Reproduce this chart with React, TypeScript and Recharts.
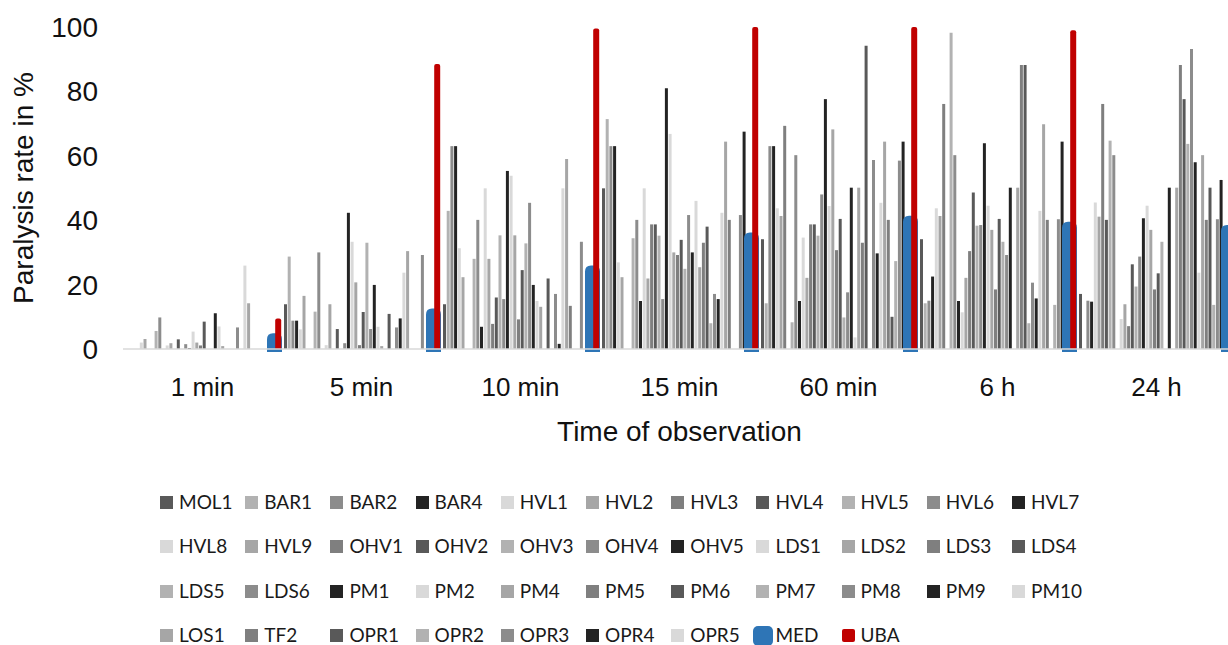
import React from 'react';
import { BarChart, Bar, XAxis, YAxis, Legend } from 'recharts';

const CATEGORIES = ['1 min', '5 min', '10 min', '15 min', '60 min', '6 h', '24 h'];

const SERIES = [
  'MOL1', 'BAR1', 'BAR2', 'BAR4', 'HVL1', 'HVL2', 'HVL3', 'HVL4', 'HVL5', 'HVL6', 'HVL7',
  'HVL8', 'HVL9', 'OHV1', 'OHV2', 'OHV3', 'OHV4', 'OHV5', 'LDS1', 'LDS2', 'LDS3', 'LDS4',
  'LDS5', 'LDS6', 'PM1', 'PM2', 'PM4', 'PM5', 'PM6', 'PM7', 'PM8', 'PM9', 'PM10',
  'LOS1', 'TF2', 'OPR1', 'OPR2', 'OPR3', 'OPR4', 'OPR5', 'MED', 'UBA',
];

// values per time point, in SERIES order
const V_1MIN = [0, 0, 0, 0, 2, 3.1, 0, 0, 5.6, 9.8, 0, 1.1, 1.8, 0, 3, 0, 1.5, 0.3, 5.4, 2, 1.1, 8.5, 0, 0, 11.1, 7, 0.9, 0, 0, 0, 6.7, 0, 25.9, 14.2, 0, 0, 0, 0, 0, 0, 4.9, 9.5];
const V_5MIN = [13.9, 28.7, 8.8, 8.8, 6.1, 16.5, 0, 0, 11.6, 30.0, 0, 1.2, 13.9, 0, 6.2, 0, 1.8, 42.3, 33.3, 20.7, 1.2, 11.5, 33.0, 6.2, 19.9, 6.9, 0.9, 0, 10.9, 0, 6.7, 9.5, 23.7, 30.4, 0, 0, 0, 29.2, 0, 0, 12.6, 88.5];
const V_10MIN = [13.9, 42.9, 63.0, 63.0, 31.3, 22.3, 0, 0, 28.0, 40.1, 6.9, 49.9, 28.0, 7.8, 16.0, 35.3, 15.5, 55.3, 53.8, 35.3, 9.2, 24.5, 32.8, 45.4, 19.9, 14.9, 13.1, 0, 21.9, 0, 17.1, 1.6, 49.9, 59.0, 13.4, 0, 0, 33.3, 0, 0, 25.9, 99.5];
const V_15MIN = [49.9, 71.4, 63.0, 63.0, 26.9, 22.3, 0, 0, 34.4, 40.1, 14.9, 49.9, 21.9, 38.7, 38.7, 35.2, 15.5, 81.0, 66.8, 30.0, 29.2, 33.9, 24.9, 41.6, 30.0, 46.0, 25.4, 33.0, 38.0, 8.0, 17.1, 15.5, 42.3, 64.4, 40.1, 0, 0, 41.6, 67.5, 0, 36.2, 100];
const V_60MIN = [34.1, 14.2, 63.0, 63.0, 43.7, 41.3, 69.3, 0, 8.3, 60.2, 14.9, 34.6, 22.1, 38.7, 38.7, 35.2, 48.0, 77.6, 44.4, 68.2, 30.7, 40.4, 9.8, 17.6, 50.1, 3.6, 50.1, 33.0, 94.2, 0, 58.7, 29.7, 45.4, 64.4, 40.1, 10.0, 27.3, 58.5, 64.4, 0, 41.4, 100];
const V_6H = [34.1, 14.2, 15.0, 22.5, 43.7, 41.3, 76.1, 0, 98.2, 60.2, 14.9, 11.4, 22.1, 30.4, 48.6, 38.3, 38.5, 63.9, 44.5, 37.0, 18.5, 40.4, 33.3, 29.2, 50.1, 0, 50.1, 88.2, 88.2, 8.0, 20.6, 15.7, 42.9, 69.8, 40.1, 0, 13.7, 40.3, 64.4, 0, 39.5, 99];
const V_24H = [17.1, 0, 15.0, 14.7, 45.5, 41.1, 76.1, 40.1, 64.7, 60.2, 0, 9.3, 13.9, 7.1, 26.3, 19.4, 28.7, 40.6, 44.5, 37.0, 18.5, 23.5, 33.3, 0, 50.1, 0, 50.1, 88.2, 77.6, 63.7, 93.2, 58.0, 23.7, 60.2, 40.1, 50.1, 13.7, 40.3, 52.5, 0, 38.5, 100];

const VALUES = [V_1MIN, V_5MIN, V_10MIN, V_15MIN, V_60MIN, V_6H, V_24H];
const Y_TICKS = [0, 20, 40, 60, 80, 100];

const GRAYS = ['#595959', '#b2b2b2', '#8c8c8c', '#232323', '#d9d9d9', '#a6a6a6', '#7f7f7f'];
const MED_COLOR = '#2e75b6';
const UBA_COLOR = '#c00000';

const colorOf = (name: string, i: number) =>
  name === 'MED' ? MED_COLOR : name === 'UBA' ? UBA_COLOR : GRAYS[i % GRAYS.length];

const data = CATEGORIES.map((cat, ci) => {
  const row: Record<string, any> = { cat };
  SERIES.forEach((s, si) => {
    row[s] = VALUES[ci][si];
  });
  return row;
});

const AXIS_FONT = '"Liberation Sans", Arial, sans-serif';

const MedShape = (p: any) => {
  const { x, y, width, height } = p;
  if (!height || height <= 0) return null;
  const cx = x + width / 2;
  const w = 15;
  const r = 6;
  const l = cx - w / 2;
  const rt = cx + w / 2;
  const top = y;
  const bottom = y + height + 3;
  const d = `M${l},${bottom} L${l},${top + r} Q${l},${top} ${l + r},${top} L${rt - r},${top} Q${rt},${top} ${rt},${top + r} L${rt},${bottom} Z`;
  return <path d={d} fill={MED_COLOR} />;
};

const UbaShape = (p: any) => {
  const { x, y, width, height } = p;
  if (!height || height <= 0) return null;
  const cx = x + width / 2;
  const w = 6;
  const r = 2;
  const l = cx - w / 2;
  const rt = cx + w / 2;
  const top = y;
  const bottom = y + height;
  const d = `M${l},${bottom} L${l},${top + r} Q${l},${top} ${l + r},${top} L${rt - r},${top} Q${rt},${top} ${rt},${top + r} L${rt},${bottom} Z`;
  return <path d={d} fill={UBA_COLOR} />;
};

const YTitle = (props: any) => {
  const vb = props.viewBox || { x: 0, y: 27, width: 123, height: 322 };
  const cx = 33;
  const cy = vb.y + vb.height / 2;
  return (
    <text
      x={cx}
      y={cy}
      transform={`rotate(-90, ${cx}, ${cy})`}
      textAnchor="middle"
      fontFamily={AXIS_FONT}
      fontSize={28}
      fill="#111"
    >
      Paralysis rate in %
    </text>
  );
};

const XTitle = (props: any) => {
  const vb = props.viewBox || { x: 123, y: 349, width: 1113, height: 100 };
  return (
    <text
      x={vb.x + vb.width / 2}
      y={vb.y + 92}
      textAnchor="middle"
      fontFamily={AXIS_FONT}
      fontSize={28}
      fill="#111"
    >
      Time of observation
    </text>
  );
};

const LegendContent = () => (
  <div style={{ position: 'relative', width: 1240, height: 165, fontFamily: 'Lato, "Open Sans", sans-serif', fontSize: 19, color: '#1a1a1a' }}>
    {SERIES.map((s, i) => {
      const col = i % 11;
      const row = Math.floor(i / 11);
      const left = 160 + 85.2 * col;
      const cy = 22 + 44.6 * row;
      const c = colorOf(s, i);
      const isMed = s === 'MED';
      const size = isMed ? 20 : 13;
      return (
        <div key={s}>
          <div
            style={{
              position: 'absolute',
              left: left + 6.5 - size / 2,
              top: cy - size / 2,
              width: size,
              height: size,
              background: c,
              borderRadius: isMed ? 5 : s === 'UBA' ? 2 : 0,
            }}
          />
          <span style={{ position: 'absolute', left: left + 19, top: cy - 8.5, lineHeight: '16px', whiteSpace: 'nowrap' }}>{s}</span>
        </div>
      );
    })}
  </div>
);

export default function App() {
  return (
    <div style={{ position: 'absolute', left: 0, top: 0, width: 1228, height: 645, overflow: 'hidden', background: '#fff' }}>
      <BarChart
        width={1240}
        height={645}
        data={data}
        margin={{ top: 27, right: 4, left: 0, bottom: 196 }}
        barCategoryGap={2}
        barGap={0.7}
      >
        <XAxis
          dataKey="cat"
          interval={0}
          axisLine={{ stroke: '#d9d9d9', strokeWidth: 1.5 }}
          tickLine={false}
          tickMargin={22.5}
          height={100}
          tick={{ fontSize: 26, fill: '#111', fontFamily: AXIS_FONT }}
          label={{ content: XTitle } as any}
        />
        <YAxis
          type="number"
          domain={[0, 100]}
          ticks={Y_TICKS}
          interval={0}
          axisLine={false}
          tickLine={false}
          width={123}
          tickMargin={19}
          tick={{ fontSize: 28, fill: '#111', fontFamily: AXIS_FONT }}
          label={{ content: YTitle } as any}
        />
        {SERIES.map((s, i) => (
          <Bar
            key={s}
            dataKey={s}
            name={s}
            fill={colorOf(s, i)}
            isAnimationActive={false}
            shape={s === 'MED' ? MedShape : s === 'UBA' ? UbaShape : undefined}
          />
        ))}
        <Legend
          layout="vertical"
          align="center"
          verticalAlign="middle"
          wrapperStyle={{ left: 0, top: 480, width: 1240, height: 165 }}
          content={LegendContent}
        />
      </BarChart>
    </div>
  );
}
